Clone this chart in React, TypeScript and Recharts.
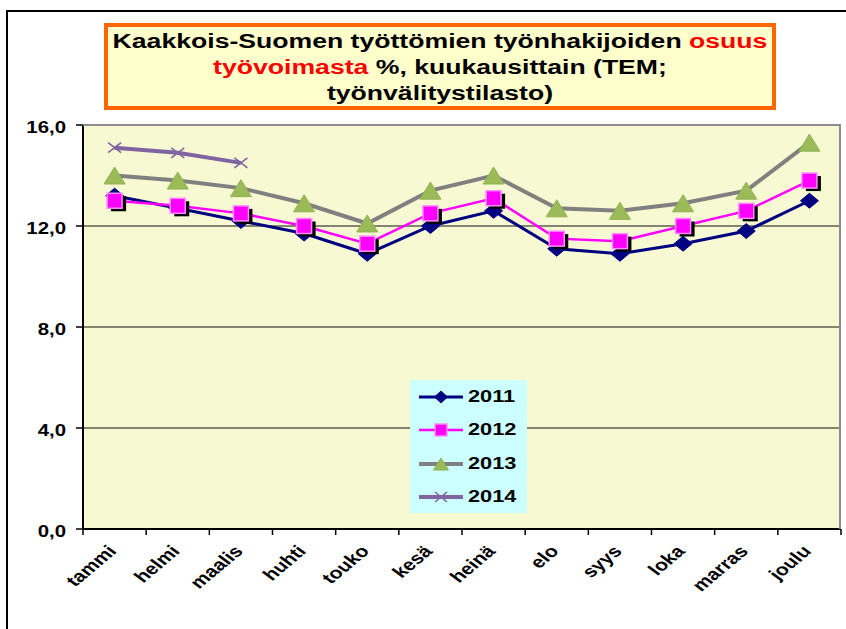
import React from 'react';
import { LineChart, Line, XAxis, YAxis, CartesianGrid, Legend } from 'recharts';

const months = ['tammi', 'helmi', 'maalis', 'huhti', 'touko', 'kesä', 'heinä', 'elo', 'syys', 'loka', 'marras', 'joulu'];
const s2011 = [13.2, 12.7, 12.2, 11.7, 10.9, 12.0, 12.6, 11.1, 10.9, 11.3, 11.8, 13.0];
const s2012 = [13.0, 12.8, 12.5, 12.0, 11.3, 12.5, 13.1, 11.5, 11.4, 12.0, 12.6, 13.8];
const s2013 = [14.0, 13.8, 13.5, 12.9, 12.1, 13.4, 14.0, 12.7, 12.6, 12.9, 13.4, 15.3];
const s2014 = [15.1, 14.9, 14.5, null, null, null, null, null, null, null, null, null];
const yTicks = [0, 4, 8, 12, 16];
const seriesNames = ['2011', '2012', '2013', '2014'];

const data = months.map((m, i) => ({
  month: m,
  y2011: s2011[i],
  y2012: s2012[i],
  y2013: s2013[i],
  y2014: s2014[i],
}));

const CHART_W = 846;
const CHART_H = 629;
const MARGIN = { top: 125, right: 5, left: 8, bottom: 20 };
const Y_AXIS_W = 75;
const PLOT_W = CHART_W - MARGIN.left - MARGIN.right - Y_AXIS_W;
const BAND = PLOT_W / months.length;

const FONT = '"Liberation Sans", Arial, sans-serif';
const NAVY = '#000080';
const MAGENTA = '#FF00FF';
const GRAY = '#808080';
const PURPLE = '#8064A2';
const GREEN = '#9BBB59';

const diamond = (cx: number, cy: number, w: number, h: number) => (
  <polygon
    points={`${cx},${cy - h / 2} ${cx + w / 2},${cy} ${cx},${cy + h / 2} ${cx - w / 2},${cy}`}
    fill={NAVY}
    stroke={NAVY}
    strokeWidth={1}
  />
);
const square = (cx: number, cy: number, s: number, shadow: boolean) => (
  <g>
    {shadow && <rect x={cx - s / 2 + 4} y={cy - s / 2 + 3} width={s} height={s} fill="#000" />}
    <rect x={cx - s / 2} y={cy - s / 2} width={s} height={s} fill={MAGENTA} stroke="#FF8CFF" strokeWidth={1.5} />
  </g>
);
const triangle = (cx: number, cy: number, w: number, h: number) => (
  <polygon
    points={`${cx},${cy - h / 2} ${cx + w / 2},${cy + h / 2} ${cx - w / 2},${cy + h / 2}`}
    fill={GREEN}
    stroke="#8FB251"
    strokeWidth={1}
  />
);
const cross = (cx: number, cy: number, w: number, h: number) => (
  <g stroke={PURPLE} strokeWidth={1.6}>
    <line x1={cx - w / 2} y1={cy - h / 2} x2={cx + w / 2} y2={cy + h / 2} />
    <line x1={cx - w / 2} y1={cy + h / 2} x2={cx + w / 2} y2={cy - h / 2} />
  </g>
);

const makeDot = (kind: string) => (props: any) => {
  const { cx, cy, index } = props;
  const key = `${kind}-${index}`;
  if (cx == null || cy == null || props.value == null) return <g key={key} />;
  let el: any = null;
  if (kind === 'd') el = diamond(cx, cy, 18, 15);
  if (kind === 's') el = square(cx, cy, 15, true);
  if (kind === 't') el = triangle(cx, cy, 21, 17);
  if (kind === 'x') el = cross(cx, cy, 13, 10);
  return <g key={key}>{el}</g>;
};

const fmt = (v: number) => v.toFixed(1).replace('.', ',');

const YTick = (props: any) => {
  const { x, y, payload } = props;
  return (
    <text
      transform={`translate(${x},${y + 8}) scale(1.2,1)`}
      textAnchor="end"
      fontSize={17}
      fontWeight="bold"
      fontFamily={FONT}
      fill="#000"
    >
      {fmt(payload.value)}
    </text>
  );
};

// Category label plus the Excel-style tick marks that sit between categories.
const XTick = (props: any) => {
  const { x, y, payload, index } = props;
  const axisY = y - 8;
  const isLast = index === months.length - 1;
  return (
    <g>
      <line x1={x - BAND / 2} y1={axisY} x2={x - BAND / 2} y2={axisY + 6} stroke="#000" strokeWidth={1.5} />
      {isLast && <line x1={x + BAND / 2} y1={axisY} x2={x + BAND / 2} y2={axisY + 6} stroke="#000" strokeWidth={1.5} />}
      <text
        transform={`translate(${x + 3},${y + 15}) scale(1.28,1) rotate(-47)`}
        textAnchor="end"
        fontSize={16.5}
        fontWeight="bold"
        fontFamily={FONT}
        fill="#000"
      >
        {payload.value}
      </text>
    </g>
  );
};

const legendSamples = [
  { color: NAVY, width: 3, mark: (cx: number, cy: number) => diamond(cx, cy, 13, 12) },
  { color: MAGENTA, width: 2.5, mark: (cx: number, cy: number) => square(cx, cy, 12, false) },
  { color: GRAY, width: 4, mark: (cx: number, cy: number) => triangle(cx, cy, 15, 12) },
  { color: PURPLE, width: 4, mark: (cx: number, cy: number) => cross(cx, cy, 12, 10) },
];

const LegendBox = () => (
  <div
    style={{
      width: 117,
      height: 133,
      background: '#CCFFFF',
      boxSizing: 'border-box',
      paddingLeft: 9,
    }}
  >
    {seriesNames.map((name, i) => (
      <div key={name} style={{ height: 33.5, display: 'flex', alignItems: 'center' }}>
        <svg width={45} height={20} style={{ display: 'block' }}>
          <line x1={0} y1={10} x2={44} y2={10} stroke={legendSamples[i].color} strokeWidth={legendSamples[i].width} />
          {legendSamples[i].mark(22, 10)}
        </svg>
        <span
          style={{
            display: 'inline-block',
            marginLeft: 4,
            fontFamily: FONT,
            fontWeight: 'bold',
            fontSize: 17,
            transform: 'scaleX(1.28)',
            transformOrigin: 'left center',
            color: '#000',
          }}
        >
          {name}
        </span>
      </div>
    ))}
  </div>
);

const titleLine: React.CSSProperties = { whiteSpace: 'nowrap', height: 26, lineHeight: '26px' };

export default function App() {
  return (
    <div
      style={{
        position: 'absolute',
        left: 0,
        top: 0,
        width: CHART_W,
        height: CHART_H,
        overflow: 'hidden',
        background: '#fff',
        fontFamily: FONT,
      }}
    >
      <div
        style={{
          position: 'absolute',
          left: 6,
          top: 10,
          width: 1000,
          height: 1000,
          borderLeft: '2px solid #000',
          borderTop: '2px solid #000',
        }}
      />
      <div style={{ position: 'absolute', left: 0, top: 0 }}>
        <LineChart width={CHART_W} height={CHART_H} data={data} margin={MARGIN}>
          <CartesianGrid vertical={false} stroke="#111" strokeWidth={1} fill="#F6F9D1" fillOpacity={1} />
          <XAxis
            dataKey="month"
            scale="band"
            height={80}
            interval={0}
            axisLine={{ stroke: '#000', strokeWidth: 2 }}
            tickLine={false}
            tick={<XTick />}
          />
          <YAxis
            domain={[0, 16]}
            ticks={yTicks}
            width={Y_AXIS_W}
            tickSize={7}
            tickMargin={10}
            axisLine={{ stroke: '#000', strokeWidth: 2 }}
            tickLine={{ stroke: '#000', strokeWidth: 1.5 }}
            tick={<YTick />}
            allowDataOverflow
          />
          <Legend
            layout="vertical"
            align="center"
            verticalAlign="middle"
            content={() => <LegendBox />}
            wrapperStyle={{ position: 'absolute', left: 410, top: 380, width: 117, height: 133 }}
          />
          <Line dataKey="y2011" name="2011" stroke={NAVY} strokeWidth={3} dot={makeDot('d')} activeDot={false} isAnimationActive={false} />
          <Line dataKey="y2012" name="2012" stroke={MAGENTA} strokeWidth={2.5} dot={makeDot('s')} activeDot={false} isAnimationActive={false} />
          <Line dataKey="y2013" name="2013" stroke={GRAY} strokeWidth={4} dot={makeDot('t')} activeDot={false} isAnimationActive={false} />
          <Line dataKey="y2014" name="2014" stroke={PURPLE} strokeWidth={4} dot={makeDot('x')} activeDot={false} isAnimationActive={false} />
        </LineChart>
      </div>
      <div
        style={{
          position: 'absolute',
          left: 83,
          top: 124,
          width: 758,
          height: 405,
          boxSizing: 'border-box',
          borderTop: '2px solid #8C8C8C',
          borderRight: '2px solid #8C8C8C',
          pointerEvents: 'none',
        }}
      />
      <div
        style={{
          position: 'absolute',
          left: 104,
          top: 23,
          width: 672,
          height: 87,
          boxSizing: 'border-box',
          border: '4px solid #FF6600',
          background: '#FFFFCC',
          paddingTop: 1,
          fontWeight: 'bold',
          fontSize: 20,
          color: '#000',
          textAlign: 'center',
        }}
      >
        <div style={{ transform: 'scaleX(1.33)', transformOrigin: 'center' }}>
          <div style={titleLine}>
            Kaakkois-Suomen työttömien työnhakijoiden <span style={{ color: '#FF0000' }}>osuus</span>
          </div>
          <div style={titleLine}>
            <span style={{ color: '#FF0000' }}>työvoimasta</span> %, kuukausittain (TEM;
          </div>
          <div style={titleLine}>työnvälitystilasto)</div>
        </div>
      </div>
    </div>
  );
}
